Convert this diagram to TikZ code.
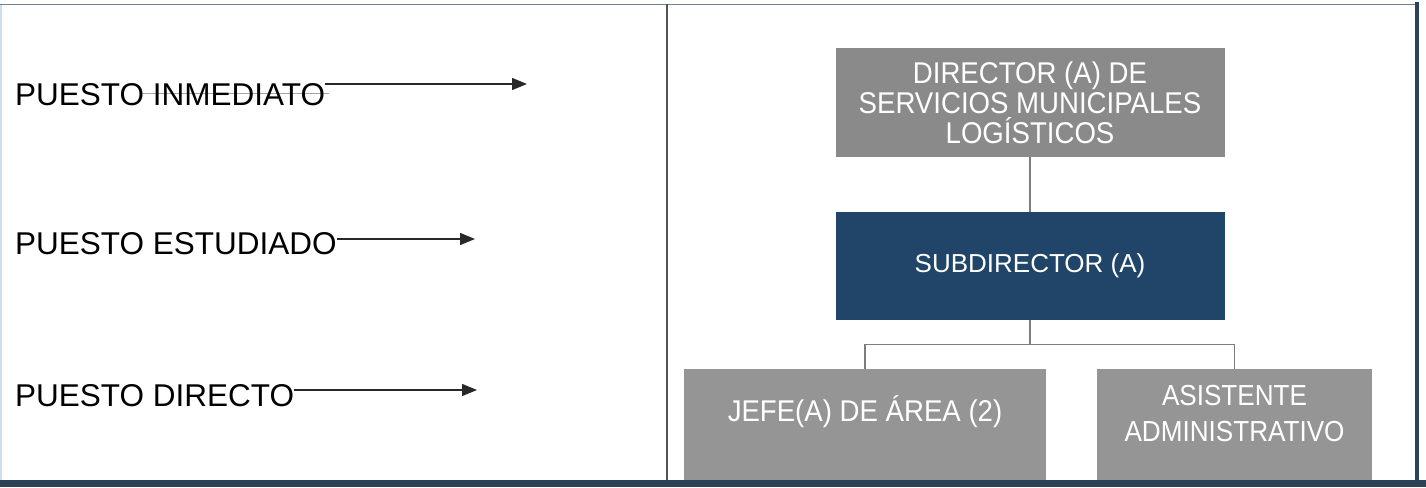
\documentclass[tikz,border=0pt]{standalone}
\usepackage{fontspec}
\setmainfont{Liberation Sans}
\newfontfamily\narrowsans[FakeStretch=0.92]{Liberation Sans}
\newfontfamily\narrowersans[FakeStretch=0.9]{Liberation Sans}
\usetikzlibrary{arrows.meta}

\definecolor{dirgray}{RGB}{138,138,138}
\definecolor{lowgray}{RGB}{149,149,149}
\definecolor{subnavy}{RGB}{32,69,104}
\definecolor{footnavy}{RGB}{44,66,86}
\definecolor{framecol}{RGB}{110,130,150}
\definecolor{edgecol}{RGB}{205,222,236}
\definecolor{dividercol}{RGB}{85,85,85}
\definecolor{conncol}{RGB}{125,125,125}
\definecolor{arrowcol}{RGB}{40,40,40}

\begin{document}
\begin{tikzpicture}[x=1pt,y=-1pt,
  orgbox/.style={rectangle, inner sep=0pt, text=white, align=center},
  dirbox/.style={orgbox, fill=dirgray, font=\narrowsans\fontsize{30}{30}\selectfont},
  subbox/.style={orgbox, fill=subnavy, font=\fontsize{26}{30}\selectfont},
  lowbox/.style={orgbox, fill=lowgray},
  lowtext/.style={inner sep=0pt, text=white, align=center},
  lbl/.style={inner sep=0pt, anchor=base west, text=black, font=\fontsize{31.5}{36}\selectfont},
  arrowline/.style={draw=arrowcol, line width=1.4pt, -{Triangle[length=15pt,width=12pt]}},
  conn/.style={draw=conncol, line width=1.3pt},
  strike/.style={draw=black!35, line width=1pt}
]
\useasboundingbox (0,0) rectangle (1426,487);

% page frame
\draw[edgecol, line width=2pt] (1,4.5) -- (1,480);
\draw[framecol, line width=1.6pt] (0,4.5) -- (1417,4.5);
\fill[footnavy] (1415,2) rectangle (1419,480);
\draw[dividercol, line width=1.4pt] (667,4.5) -- (667,480);

% left column: level labels with arrows
\coordinate (s1) at (143,93);
\draw[strike] (s1) -- (329,93);
\node[lbl] (l1) at (15,105) {PUESTO INMEDIATO};
\node[lbl] (l2) at (15,254) {PUESTO ESTUDIADO};
\node[lbl] (l3) at (15,406) {PUESTO DIRECTO};
\coordinate (a1) at (527,84);
\coordinate (a2) at (475,239);
\coordinate (a3) at (477,390);
\draw[arrowline] (l1.east |- a1) -- (a1);
\draw[arrowline] (l2.east |- a2) -- (a2);
\draw[arrowline] (l3.east |- a3) -- (a3);

% right column: organisation chart
\node[dirbox, minimum width=389pt, minimum height=109pt] (dir) at (1030,102.5)
  {DIRECTOR (A) DE\\SERVICIOS MUNICIPALES\\LOG\'ISTICOS};
\node[subbox, minimum width=389pt, minimum height=108pt] (sub) at (1030,266)
  {SUBDIRECTOR (A)};
\node[lowbox, minimum width=362pt, minimum height=111pt] (jefe) at (865,424.5) {};
\node[lowbox, minimum width=275pt, minimum height=111pt] (asis) at (1234.5,424.5) {};
\node[lowtext, font=\narrowsans\fontsize{30}{36}\selectfont] (jefetxt) at (865,412)
  {JEFE(A) DE \'AREA (2)};
\node[lowtext, font=\narrowersans\fontsize{29}{36}\selectfont] (asistxt) at (1234.5,414)
  {ASISTENTE\\ADMINISTRATIVO};

\draw[conn] (dir.south) -- (sub.north);
\draw[conn] (sub.south) -- ++(0,24) -| (jefe.north);
\draw[conn] (sub.south) -- ++(0,24) -| (asis.north);

% footer band
\fill[footnavy] (0,480) rectangle (1426,487);
\end{tikzpicture}
\end{document}
